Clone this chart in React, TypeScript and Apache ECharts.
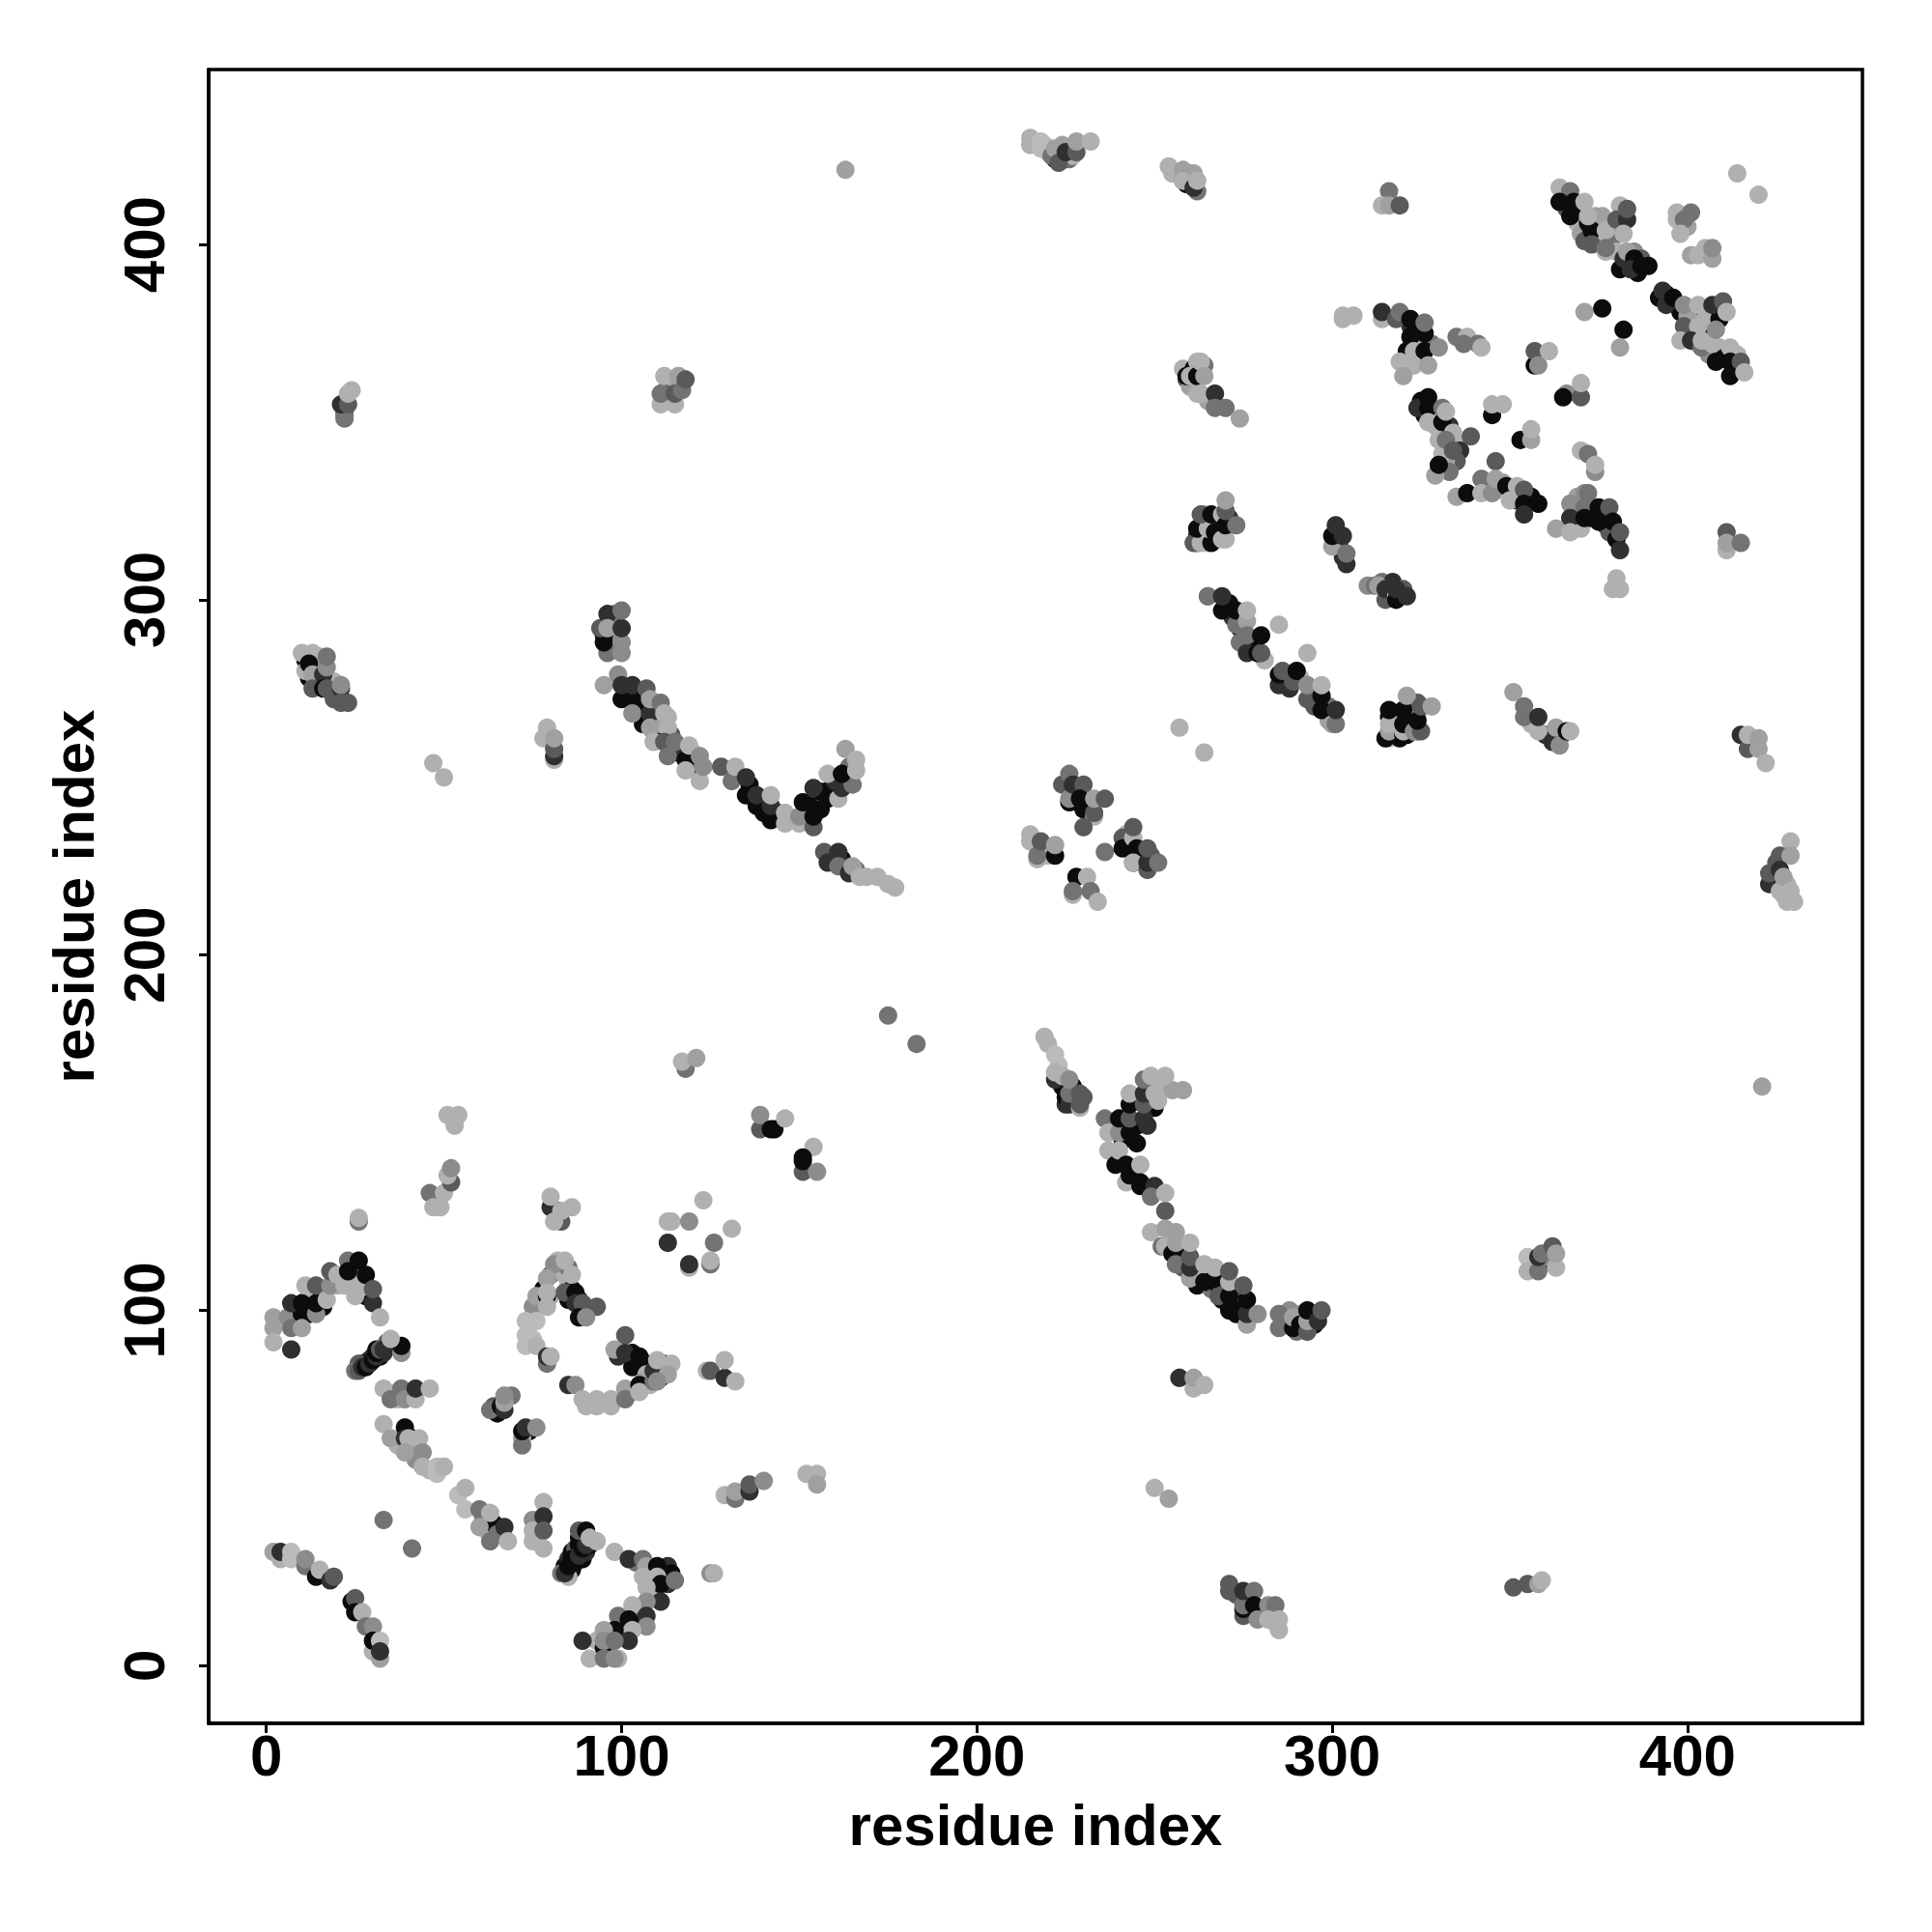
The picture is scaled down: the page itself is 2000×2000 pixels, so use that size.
import React, { useEffect, useRef } from "react";
import * as echarts from "echarts";

const K = 12, D = 48, S = 90, M = 115, G = 140, L = 160, A = 176, P = 187;
type Pt = [number, number, number];

const xTicks = [0, 100, 200, 300, 400];
const yTicks = [0, 100, 200, 300, 400];
const axisTitle = "residue index";

const underLowLeft: Pt[] = [[12,99,K],[12,104,A],[9,100,K],[8,96,A],[16,101,K],[16,105,L],[25,110,K],[24,112,D],[22,110,L],[26,109,A],[28,107,G],[28,104,K],[25,104,A],[20,107,A],[26,84,K],[27,85,K],[28,85,D],[29,86,K],[30,87,D],[31,89,K],[32,87,K],[33,88,D],[34,90,K],[34,91,S],[35,90,K],[26,85,S],[36,90,D],[37,77,L],[40,76,S],[37,75,A],[41,64,K],[37,62,A],[41,60,L],[42,58,G],[46,55,A],[61,42,M],[62,38,A],[64,40,K],[65,37,M],[76,35,A],[76,39,L],[77,40,S],[84,28,K],[85,30,D],[86,32,K],[87,29,D],[87,33,S],[88,34,K],[89,30,K],[89,35,K],[90,32,D],[90,36,D],[91,34,K],[86,27,K],[88,36,K],[99,2,A],[93,7,A],[96,8,K],[100,11,K],[101,8,K],[100,13,M],[104,14,A],[105,12,K],[106,16,M],[108,20,A],[109,25,K],[112,24,K],[113,23,D],[108,26,A],[104,29,M],[113,28,D],[78,106,K],[80,110,M],[83,112,A],[84,110,A],[85,108,A],[86,106,K],[88,103,K],[85,103,K],[82,114,A],[85,112,M],[80,104,A],[90,100,D],[103,88,K],[103,84,K],[107,85,K],[107,82,A],[108,79,A],[111,81,D],[112,83,M],[103,77,A],[106,80,L],[99,87,D],[112,85,S],[64,73,S],[65,71,K],[69,76,M],[74,66,K],[72,64,L]];
const underUpLeft: Pt[] = [[12,278,K],[14,277,S],[15,281,A],[19,273,K],[19,277,A],[19,272,S],[11,283,K],[11,280,A],[15,284,A],[22,353,D],[113,356,D],[113,360,S],[115,362,L],[97,290,K],[98,288,L],[97,294,K],[99,290,G],[95,290,K],[98,296,M],[98,286,G],[101,274,K],[104,270,S],[105,272,A],[105,268,K],[106,265,K],[107,270,K],[109,266,A],[110,268,K],[109,263,K],[110,270,A],[111,265,L],[113,267,A],[114,262,S],[115,257,G],[116,257,K],[117,258,D],[120,254,G],[121,252,S],[120,257,A],[119,253,S],[136,248,K],[140,244,K],[140,240,K],[144,240,D],[153,242,K],[156,241,K],[156,246,K],[159,247,K],[160,249,D],[163,248,S],[164,253,M],[162,227,K],[163,225,D],[159,228,S],[166,224,M]];
const underMiddle: Pt[] = [[228,246,K],[231,243,D],[228,243,A],[243,231,K],[246,228,K],[247,227,D],[242,234,A],[245,228,G],[249,228,S],[218,229,A],[220,228,A],[262,107,K],[264,111,D],[266,106,M],[268,107,K],[269,103,K],[270,107,S],[272,105,A],[273,102,K],[273,99,K],[274,105,S],[255,121,A],[257,118,K],[258,115,K],[258,112,S],[262,110,A],[245,147,K],[245,152,K],[248,152,D],[241,148,K],[250,157,K],[248,163,K],[252,163,A],[255,162,L],[230,160,S],[227,163,K],[224,163,K],[225,158,D],[287,96,K],[290,94,M],[295,96,K],[291,99,L],[288,100,G],[294,98,G],[277,19,K],[276,18,D],[280,15,K],[281,14,A],[283,15,A],[273,20,S],[284,12,A]];
const underUpMid: Pt[] = [[219,428,A],[220,426,A],[223,427,L],[224,425,D],[225,424,K],[226,424,M],[227,425,A],[222,424,K],[224,428,L],[255,420,A],[259,417,K],[260,420,A],[262,415,M],[259,362,S],[258,365,A],[261,365,K],[262,367,A],[264,366,M],[260,360,L],[262,358,A],[265,356,L],[262,318,K],[263,320,A],[264,318,K],[265,322,K],[264,324,L],[266,320,A],[267,317,A],[268,320,K],[268,322,A],[262,316,D],[265,318,A],[267,322,K],[269,319,K],[270,317,A],[271,323,D],[271,299,K],[272,295,D],[274,292,K],[278,287,K],[274,288,M],[281,283,A],[287,278,K],[288,275,D],[291,278,A],[295,270,S],[295,274,K],[299,270,M],[299,266,L],[302,315,K],[303,312,D],[301,317,S],[316,302,D],[314,305,M],[317,305,D],[319,301,K],[320,303,S],[316,261,A],[316,267,K],[317,263,K],[317,266,L],[318,262,A],[318,268,K],[319,261,K],[319,265,A],[321,262,K],[321,265,L],[321,268,K],[322,270,A],[323,267,K],[323,265,S],[324,263,D],[322,263,A],[324,268,L],[324,271,S],[317,268,A]];
const underRight: Pt[] = [[322,366,K],[324,372,A],[325,368,K],[328,372,M],[321,370,K],[322,377,D],[324,377,K],[325,356,K],[328,352,A],[326,352,K],[329,349,A],[330,348,A],[333,349,D],[333,345,A],[335,344,A],[336,342,D],[335,339,S],[332,339,L],[333,336,M],[343,332,A],[344,331,M],[347,331,A],[348,333,L],[351,330,A],[352,328,D],[356,329,K],[369,329,L],[369,326,K],[372,324,M],[370,320,A],[373,323,K],[376,324,K],[377,321,K],[378,319,S],[380,317,K],[356,265,A],[360,262,D],[364,261,K],[357,113,M],[360,114,K],[361,115,G],[356,113,L],[365,414,K],[366,410,S],[369,409,K],[369,406,A],[370,403,L],[372,406,K],[374,408,L],[374,402,A],[375,400,A],[371,401,S],[379,402,M],[380,398,A],[381,393,K],[383,395,K],[385,394,D],[386,392,K],[385,398,G],[387,396,S],[389,394,K],[400,405,L],[401,397,L],[405,399,A],[397,409,A],[401,409,M],[394,386,K],[397,383,S],[398,381,K],[400,380,L],[405,381,D],[400,375,A],[402,375,K],[403,372,A],[406,369,G],[406,375,K],[409,371,A],[410,368,K],[413,365,K],[414,369,A],[405,379,A],[409,379,K],[424,222,D],[425,220,S],[425,226,S],[428,220,A],[427,217,A]];

const arcCorner: Pt[] = [[2,32,L],[4,30,A],[4,32,D],[7,32,P],[7,30,P],[11,28,M],[11,30,G],[14,25,K],[15,27,A],[18,24,D],[19,25,S],[24,18,K],[25,19,S],[25,15,K],[27,15,A],[28,11,M],[30,11,G],[30,4,A],[30,7,K],[32,7,P],[32,2,L],[32,4,D],[33,41,M],[41,33,M]];
const hookA: Pt[] = [[2,98,L],[2,95,L],[2,91,A],[7,89,D],[6,98,G],[10,99,K],[7,95,M],[10,95,L],[7,102,D],[10,102,K],[14,99,G],[14,102,K],[11,107,A],[14,107,S],[17,103,A],[18,107,G],[18,111,S],[22,107,A],[20,110,A],[24,107,A],[23,114,M],[23,111,K],[26,106,A],[26,114,K],[28,110,K],[30,102,D],[30,106,S],[32,98,A],[26,125,M],[26,126,A]];
const bandA: Pt[] = [[25,83,M],[26,83,S],[27,84,D],[28,84,K],[29,85,D],[30,86,K],[31,87,D],[31,88,K],[32,89,S],[33,89,D],[38,88,G],[38,90,K],[35,92,A]];
const arcA: Pt[] = [[33,78,A],[35,75,M],[38,78,M],[39,75,G],[42,75,A],[42,78,D],[46,78,A],[33,68,A],[35,64,L],[39,67,K],[39,64,D],[40,64,A],[43,64,A],[39,60,L],[44,60,G],[44,56,A],[48,54,P],[48,56,P],[50,56,A],[54,48,P],[56,50,A],[56,44,P],[60,44,M],[60,39,L],[63,43,A],[63,35,M],[67,39,D],[68,35,A],[75,35,A],[75,41,G],[75,38,A],[78,46,A],[78,42,D],[78,38,S],[78,33,A]];
const bandB: Pt[] = [[83,26,M],[85,25,A],[84,26,D],[85,28,K],[86,30,K],[88,31,D],[89,33,K],[90,34,D],[88,38,S],[90,38,K],[91,36,A],[93,35,A]];
const hookB: Pt[] = [[98,32,A],[102,30,D],[106,30,M],[107,28,L],[110,28,K],[114,26,K],[106,25,A],[110,25,A],[111,23,K],[115,24,M],[107,22,A],[111,18,D],[107,18,G],[103,17,A],[99,14,M],[107,14,D],[102,13,K],[107,11,G],[103,10,A],[102,7,D],[98,10,K],[95,10,L],[95,5,K],[95,7,G],[98,7,M],[89,7,D],[91,2,A],[95,2,M],[98,2,G]];
const smallLow: Pt[] = [[125,26,G],[126,26,A],[129,48,A],[132,47,M],[132,49,L],[136,49,D],[136,51,S],[140,52,G],[46,133,M],[47,129,A],[49,129,A],[50,133,A],[52,136,S],[51,138,A],[52,140,G],[51,155,A],[54,155,A],[53,152,A]];
const ring: Pt[] = [[113,125,A],[114,125,A],[119,125,G],[123,131,A],[113,119,D],[126,119,M],[131,123,A],[119,112,A],[119,113,D],[125,113,M],[125,114,A]];
const topB: Pt[] = [[80,129,D],[82,128,D],[80,132,A],[83,125,S],[81,125,A],[83,128,A],[86,129,A]];
const curveB: Pt[] = [[81,113,G],[84,114,A],[79,109,L],[86,110,A],[75,101,G],[76,104,L],[79,104,K],[79,105,A],[79,101,A],[76,97,P],[73,97,P],[73,93,P],[75,92,P],[73,90,P],[76,90,A],[79,85,M],[79,87,D],[80,87,A],[84,105,S],[87,105,K],[87,102,D],[89,102,S],[93,101,S],[88,98,K],[90,98,G]];
const curveC: Pt[] = [[85,79,D],[87,79,G],[89,75,A],[93,75,A],[90,73,A],[93,73,A],[97,75,A],[97,73,A],[101,78,L],[101,75,M],[105,79,K],[105,77,A],[109,80,M],[101,93,S],[98,89,L],[101,88,D],[105,87,K],[109,83,D],[110,86,A],[114,85,A],[113,82,L],[110,80,G]];
const smallMid: Pt[] = [[124,83,A],[125,83,S],[129,81,D],[129,86,A],[132,80,A],[63,72,M],[66,73,K],[67,72,D],[67,74,L],[67,76,G],[72,62,M],[72,66,K],[73,67,D],[76,67,G]];
const scatterMid: Pt[] = [[118,168,M],[117,170,A],[121,171,L],[139,151,S],[139,155,G],[142,151,K],[143,151,K],[146,154,A],[154,146,A],[151,139,S],[151,142,K],[151,143,K],[155,139,G],[175,183,M],[183,175,M],[152,54,A],[155,54,A],[155,51,L]];
const upLeft: Pt[] = [[22,351,M],[22,352,M],[21,355,D],[23,355,S],[23,358,A],[24,359,A],[111,355,A],[115,355,A],[111,358,M],[112,363,A],[116,363,L],[115,358,S],[117,359,M],[118,362,S],[10,285,A],[13,285,A],[12,282,K],[13,279,L],[13,275,S],[16,279,D],[17,281,G],[17,284,M],[16,275,K],[17,275,S],[21,275,D],[21,276,G],[21,271,S],[23,271,S],[47,254,A],[50,250,A],[79,264,A],[78,261,A],[81,255,A],[81,256,D],[81,258,S],[81,261,L]];
const arcUpper: Pt[] = [[96,285,M],[100,285,G],[95,288,K],[100,288,G],[94,292,S],[96,296,D],[96,292,L],[100,292,D],[100,297,M],[95,276,L],[99,279,G],[100,272,K],[103,272,K],[100,276,D],[103,276,D],[103,268,G],[107,275,S],[108,268,D],[108,272,L],[111,271,M],[112,268,A],[108,264,L],[113,264,A],[109,260,A],[112,260,S],[113,256,M],[115,260,M],[118,255,K],[118,252,A],[119,259,A],[122,249,A],[122,256,G],[123,253,G],[128,253,S],[131,249,M],[132,253,A],[135,245,K],[135,250,D],[138,242,K],[138,245,D],[142,238,K],[142,242,D],[142,245,A],[146,237,A],[146,240,A],[150,237,A],[150,239,G],[154,236,S],[151,243,K],[154,239,K],[154,247,D],[158,244,K],[161,244,A],[162,247,D],[158,251,A],[165,248,M],[162,251,K],[166,252,A],[163,258,L],[166,255,A],[157,229,S],[161,229,D],[158,226,D],[161,225,M],[164,223,D],[165,225,L],[167,222,A],[169,222,A],[172,222,A],[175,220,A],[177,219,A]];
const topRow: Pt[] = [[215,430,A],[215,428,A],[218,429,P],[218,427,P],[221,425,M],[222,427,L],[223,423,S],[225,426,D],[228,426,S],[228,429,L],[232,429,A],[163,421,L],[254,422,A],[258,421,L],[261,420,L],[258,418,S],[258,418,A],[261,416,D],[262,418,A],[316,415,M],[314,411,A],[316,411,L],[319,411,S]];
const upperRight: Pt[] = [[303,379,A],[303,380,A],[306,380,A],[314,379,A],[314,381,D],[318,379,S],[319,381,M],[322,379,K],[322,374,K],[326,375,K],[326,378,M],[323,370,A],[326,370,K],[330,371,G],[319,367,A],[323,366,A],[327,366,L],[320,363,L],[259,363,K],[260,363,A],[262,363,K],[263,367,A],[264,363,L],[263,358,A],[267,358,D],[267,354,M],[270,354,M],[274,351,L]];
const crossTop: Pt[] = [[364,416,A],[367,415,M],[364,412,K],[368,412,K],[367,408,K],[371,412,A],[376,408,L],[373,404,K],[372,408,A],[377,404,A],[373,400,S],[377,398,A],[377,399,M],[381,411,A],[380,407,S],[383,407,D],[383,410,S],[382,403,A],[382,396,D],[383,398,L],[385,396,K],[384,393,D],[387,394,K],[371,381,L],[376,382,K],[382,376,K],[381,371,L],[397,407,A],[399,407,M],[398,403,A],[403,397,A],[407,396,L],[407,399,G],[414,420,A],[420,414,A]];
const crossRight: Pt[] = [[392,385,K],[393,387,D],[394,383,D],[396,385,K],[399,383,G],[403,383,A],[407,383,D],[410,384,S],[411,381,A],[399,377,S],[403,377,A],[398,373,A],[401,373,D],[404,371,M],[404,373,A],[407,372,A],[408,376,G],[412,371,A],[408,367,K],[412,367,K],[415,367,S],[412,363,K],[416,364,A],[411,319,S],[411,314,A],[411,316,L],[415,316,M],[380,306,A],[379,303,A],[381,303,A]];
const crossMid: Pt[] = [[335,374,M],[338,374,A],[337,372,M],[341,372,M],[342,371,A],[357,366,K],[357,370,S],[358,366,G],[361,370,A],[366,358,G],[365,357,K],[370,357,S],[370,361,A],[324,354,D],[327,357,K],[327,354,K],[327,350,A],[331,350,K],[331,354,M],[332,353,A],[330,345,A],[334,347,A],[339,346,S],[331,341,A],[332,345,M],[334,342,S],[329,335,L],[330,338,K],[345,352,K],[345,355,A],[348,355,A],[353,345,K],[356,345,L],[356,348,A],[370,342,A],[372,341,M],[374,336,G],[374,338,A]];
const crossLow: Pt[] = [[346,339,S],[342,334,M],[335,329,L],[338,330,K],[342,330,A],[345,330,G],[346,334,L],[349,332,K],[352,332,A],[350,328,A],[354,331,S],[354,327,K],[358,327,K],[354,324,D],[367,327,G],[371,330,G],[372,330,M],[371,326,M],[375,326,K],[378,326,S],[367,323,D],[371,323,K],[375,322,K],[379,322,K],[363,320,L],[367,319,A],[381,319,S],[381,314,D]];
const clusterR: Pt[] = [[261,316,S],[263,316,A],[262,320,K],[265,316,A],[266,316,K],[265,320,A],[263,324,S],[267,319,K],[269,317,A],[266,324,K],[269,324,A],[270,321,K],[270,325,S],[270,328,L],[273,321,M],[300,315,L],[300,318,K],[301,321,D],[303,318,D],[304,310,D],[304,313,M],[310,304,G],[312,304,M],[313,304,L],[315,300,S],[315,303,D],[318,301,A],[318,300,K],[318,303,D],[321,301,D]];
const diagR: Pt[] = [[265,301,L],[265,301,M],[269,297,K],[269,301,D],[273,293,M],[273,297,K],[276,294,L],[276,297,A],[276,285,D],[276,290,M],[279,285,K],[280,285,S],[280,290,K],[285,293,A],[293,285,A],[285,276,D],[285,279,K],[286,280,S],[289,277,S],[290,280,K],[293,272,S],[293,276,G],[297,269,K],[297,273,K],[297,276,A],[300,265,L],[301,265,M],[301,269,D],[257,264,A],[264,257,A]];
const clusterS: Pt[] = [[315,261,K],[316,263,L],[316,265,A],[316,269,K],[320,262,K],[320,263,A],[320,265,K],[320,269,K],[321,273,L],[323,263,G],[325,263,S],[324,266,K],[325,270,S],[328,270,L],[351,274,L],[354,267,M],[354,270,M],[358,263,A],[358,267,D],[362,260,D],[364,259,G],[363,264,L],[366,263,K],[367,263,A]];
const clusterM: Pt[] = [[224,248,S],[226,251,M],[226,243,K],[226,244,G],[227,248,D],[230,248,S],[229,244,K],[230,241,K],[233,239,A],[233,240,S],[233,244,L],[236,244,S],[230,236,S],[215,234,A],[215,232,A],[217,227,A],[217,228,M],[218,232,S],[222,228,K],[222,231,L],[228,222,K],[231,222,A],[227,217,A],[227,218,M],[232,218,M],[234,215,A],[236,229,M],[241,233,S],[241,230,K],[244,233,A],[244,236,S],[245,230,K],[244,226,K],[244,226,A],[248,224,S],[248,226,D],[248,230,S],[251,226,M]];
const arcLower: Pt[] = [[219,177,A],[220,175,A],[222,172,P],[223,169,P],[222,165,D],[222,167,A],[224,166,A],[225,160,K],[226,158,D],[226,161,M],[226,165,G],[229,157,A],[229,158,S],[229,161,S],[236,154,M],[237,150,A],[240,150,G],[240,154,K],[243,150,K],[243,154,S],[243,158,K],[243,161,A],[247,154,D],[247,158,S],[247,161,D],[247,165,M],[251,159,A],[250,161,A],[249,166,A],[253,166,A],[258,162,L],[237,145,A],[239,141,K],[240,145,A],[242,136,A],[243,138,K],[242,141,K],[246,141,A],[246,135,K],[246,136,K],[250,135,D],[249,132,M],[253,128,S],[253,133,A],[249,122,A],[252,118,M],[253,118,A],[253,123,L],[256,122,L],[255,116,K],[256,113,M],[256,119,L],[260,109,L],[260,112,D],[260,115,S],[260,119,A],[264,108,K],[264,113,A],[268,104,S],[267,109,K],[267,112,A],[271,100,K],[271,104,K],[271,108,A],[271,111,S],[276,96,L],[276,99,D],[276,103,K],[275,107,S],[279,99,G],[285,95,M],[285,99,M],[289,95,K],[289,98,L],[291,96,K],[293,94,S],[293,97,L],[293,100,K],[296,97,D],[297,100,S]];
const lowerRight: Pt[] = [[257,81,L],[257,81,D],[261,78,A],[261,81,L],[264,79,A],[250,50,A],[254,47,L],[355,115,P],[355,111,A],[358,111,M],[358,115,D],[359,116,M],[362,118,S],[363,112,A],[363,116,L],[351,22,S],[355,23,S],[358,23,L],[359,24,A],[271,21,S],[271,23,S],[275,14,S],[275,16,K],[275,17,M],[275,21,D],[278,21,M],[278,17,K],[279,13,G],[282,17,G],[284,17,M],[282,13,A],[285,10,A],[285,13,A]];
const farRight: Pt[] = [[415,262,D],[417,258,S],[417,262,A],[420,261,L],[420,258,L],[422,254,A],[421,163,L],[429,232,A],[426,228,S],[429,228,L],[423,220,D],[423,223,S],[426,224,D],[426,218,A],[427,222,L],[429,218,A],[428,215,A],[430,215,A]];

const allPoints: Pt[] = [
  ...underLowLeft, ...underUpLeft, ...underMiddle, ...underUpMid, ...underRight,
  ...arcCorner, ...hookA, ...bandA, ...arcA, ...bandB, ...hookB, ...smallLow, ...ring, ...topB,
  ...curveB, ...curveC, ...smallMid, ...scatterMid, ...upLeft, ...arcUpper, ...topRow, ...upperRight,
  ...crossTop, ...crossRight, ...crossMid, ...crossLow, ...clusterR, ...diagR, ...clusterS, ...clusterM,
  ...arcLower, ...lowerRight, ...farRight,
];

const font = "'Liberation Sans', Arial, sans-serif";

export default function App() {
  const ref = useRef<HTMLDivElement>(null);
  useEffect(() => {
    const chart = echarts.init(ref.current!, undefined, { renderer: "svg" });
    const axisCommon = {
      type: "value" as const,
      name: axisTitle,
      nameLocation: "middle" as const,
      nameTextStyle: { fontFamily: font, fontWeight: "bold" as const, fontSize: 60, color: "#000" },
      axisLine: { show: true, onZero: false, lineStyle: { color: "#000", width: 3.5 } },
      axisTick: { show: true, inside: false, length: 10, lineStyle: { color: "#000", width: 3 } },
      splitLine: { show: false },
    };
    const labelStyle = { fontFamily: font, fontWeight: "bold" as const, fontSize: 60, color: "#000" };
    chart.setOption({
      animation: false,
      backgroundColor: "#fff",
      grid: { show: true, left: 216, top: 72, width: 1712, height: 1712, borderColor: "#000", borderWidth: 3.5, backgroundColor: "transparent" },
      xAxis: {
        ...axisCommon,
        min: -16.24,
        max: 449.24,
        nameGap: 75,
        axisTick: { ...axisCommon.axisTick, customValues: xTicks },
        axisLabel: { ...labelStyle, margin: 3, customValues: xTicks },
      },
      yAxis: {
        ...axisCommon,
        min: -16.24,
        max: 449.24,
        nameGap: 110,
        nameRotate: 90,
        axisTick: { ...axisCommon.axisTick, customValues: yTicks },
        axisLabel: { ...labelStyle, margin: 37, rotate: 90, customValues: yTicks },
      },
      series: [
        {
          type: "scatter",
          symbol: "circle",
          symbolSize: 19,
          silent: true,
          data: allPoints,
          itemStyle: {
            opacity: 1,
            color: (p: any) => {
              const g = p.value[2];
              return `rgb(${g},${g},${g})`;
            },
          },
        },
      ],
    });
    return () => chart.dispose();
  }, []);
  return <div ref={ref} style={{ position: "absolute", left: 0, top: 0, width: 2000, height: 2000 }} />;
}
